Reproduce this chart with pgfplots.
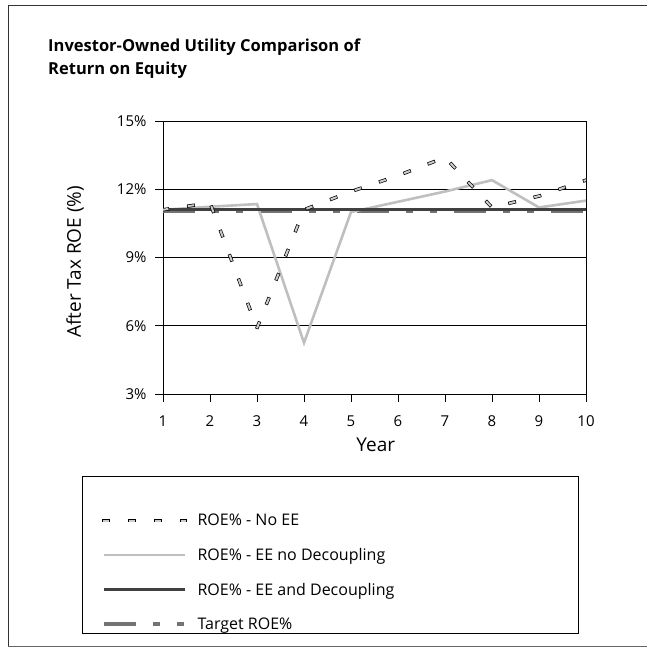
\documentclass[border=0pt]{standalone}
\usepackage{fontspec}
\setmainfont{Open Sans}
\usepackage{pgfplots}
\pgfplotsset{compat=1.18}

% dashed "No EE" line, light "no decoupling", dark "decoupling", target
\tikzset{
  noee/.style={draw=black, line width=0.7bp, double=gray!40, double distance=2.0bp,
    line cap=rect, dash pattern=on 4.5bp off 21.5bp},
  nodec/.style={draw=gray!50, line width=2.6bp},
  dec/.style={draw=black!75, line width=3.4bp},
  target/.style={draw=black!55, line width=3.4bp,
    dash pattern=on 32bp off 17bp on 7bp off 17bp on 7bp off 17bp},
}

\begin{document}
\begin{tikzpicture}[x=1bp,y=1bp]
\path[use as bounding box] (0,0) rectangle (647,-648);
\draw[black!80, line width=0.8bp] (8,-646) -- (8,-5) -- (647,-5);
\draw[black!60, line width=0.8bp] (8,-646) -- (647,-646);

\node[anchor=base west, inner sep=0pt, font=\fontsize{16.5bp}{20bp}\selectfont\bfseries] at (48,-52) {Investor-Owned Utility Comparison of};
\node[anchor=base west, inner sep=0pt, font=\fontsize{16.5bp}{20bp}\selectfont\bfseries] at (48,-75) {Return on Equity};

\begin{axis}[
    at={(163bp,-394bp)}, anchor=south west,
    scale only axis,
    width=423bp, height=273bp,
    xmin=1, xmax=10, ymin=3, ymax=15,
    xtick={1,...,10},
    ytick={3,6,9,12,15},
    yticklabel={\pgfmathprintnumber{\tick}\%},
    /pgf/number format/assume math mode=true,
    tick label style={font=\fontsize{15bp}{18bp}\selectfont},
    xticklabel style={yshift=-10bp},
    yticklabel style={xshift=-5bp},
    xtick pos=bottom, ytick pos=left,
    tick align=outside,
    major tick length=8bp,
    xtick style={draw=black, line width=1bp},
    ytick style={draw=black, line width=1bp},
    axis line style={black, line width=0.8bp},
    ymajorgrids,
    major grid style={black, line width=0.7bp},
    xlabel={Year},
    ylabel={After Tax ROE (\%)},
    label style={font=\fontsize{19bp}{22bp}\selectfont},
    xlabel style={at={(axis description cs:0.503,-0.187)}, anchor=center},
    ylabel style={at={(axis description cs:-0.208,0.484)}, anchor=center},
    legend image code/.code={\draw[#1] (0bp,0bp) -- (81bp,0bp);},
    legend cell align=left,
    legend style={at={(axis description cs:-0.1915,-0.41)}, anchor=north west,
      draw=none, fill=none, font=\fontsize{16bp}{19bp}\selectfont,
      inner xsep=20bp, inner ysep=6bp, row sep=17bp,
      /tikz/every odd column/.append style={column sep=9bp}},
]
\addplot[target, forget plot] coordinates {(1,11.03) (2,11.03) (3,11.03) (4,11.03) (5,11.03) (6,11.03) (7,11.03) (8,11.03) (9,11.03) (10,11.03)};
\addplot[nodec, forget plot] coordinates {(1,11.1) (2,11.23) (3,11.35) (4,5.25) (5,11.0) (6,11.45) (7,11.9) (8,12.4) (9,11.2) (10,11.5)};
\addplot[dec, forget plot] coordinates {(1,11.1) (2,11.1) (3,11.1) (4,11.1) (5,11.1) (6,11.1) (7,11.1) (8,11.1) (9,11.1) (10,11.1)};
\addplot[noee] coordinates {(1,11.1) (2,11.4) (3,5.9) (4,11.1) (5,11.9) (6,12.6) (7,13.4) (8,11.2) (9,11.7) (10,12.4)};
\addlegendentry{ROE\% - No EE}
\addlegendimage{nodec}
\addlegendentry{ROE\% - EE no Decoupling}
\addlegendimage{dec}
\addlegendentry{ROE\% - EE and Decoupling}
\addlegendimage{target}
\addlegendentry{Target ROE\%}
\end{axis}
% legend frame
\draw[black, line width=0.8bp] (82,-476) rectangle (578,-633);
\end{tikzpicture}
\end{document}
